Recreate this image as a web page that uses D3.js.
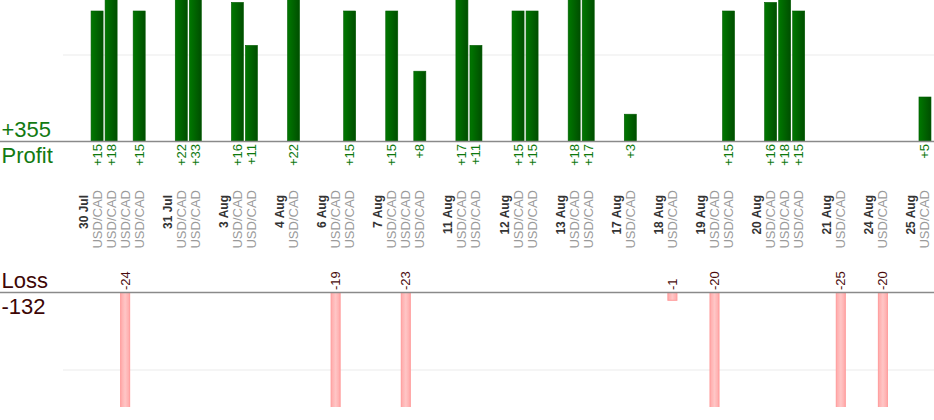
<!DOCTYPE html>
<html>
<head>
<meta charset="utf-8">
<script src="https://cdn.jsdelivr.net/npm/d3@7"></script>
<style>
  html, body { margin: 0; padding: 0; background: #fff; }
  svg { display: block; font-family: "Liberation Sans", Arial, sans-serif; }
</style>
</head>
<body>
<svg id="chart" width="934" height="420"></svg>
<script>
// ---- data ----
const dates = ["30 Jul","31 Jul","3 Aug","4 Aug","6 Aug","7 Aug","11 Aug","12 Aug","13 Aug","17 Aug","18 Aug","19 Aug","20 Aug","21 Aug","24 Aug","25 Aug"];
const tradesPerDate = [4, 2, 2, 1, 2, 3, 2, 2, 2, 1, 1, 2, 3, 1, 1, 1];
const tradeValues = [15, 18, -24, 15,  22, 33,  16, 11,  22,  -19, 15,  15, -23, 8,
                     17, 11,  15, 15,  18, 17,  3,  -1,  -20, 15,  16, 18, 15,  -25,  -20,  5];
const tradePair = "USD/CAD";
const gridValue = 10;

// ---- layout ----
const W = 934, H = 420;
const svg = d3.select("#chart");

// build slot list: gap, date, trades...
const slots = [];
let t = 0;
dates.forEach((d, i) => {
  slots.push({ key: "g" + i, type: "gap" });
  slots.push({ key: "d" + i, type: "date", label: d });
  for (let k = 0; k < tradesPerDate[i]; k++) {
    slots.push({ key: "t" + t, type: "trade", value: tradeValues[t] });
    t++;
  }
});

const x = d3.scaleBand().domain(slots.map(s => s.key)).range([62, 932]).padding(0);
const bw = x.bandwidth();
const cx = k => x(k) + bw / 2;

const profitBase = 141, lossBase = 292;
const yP = d3.scaleLinear().domain([0, gridValue]).range([profitBase, 55]);
const yL = d3.scaleLinear().domain([0, gridValue]).range([lossBase, 370]);

const defs = svg.append("defs");
const gP = defs.append("linearGradient").attr("id", "gp").attr("x1", 0).attr("x2", 1).attr("y1", 0).attr("y2", 0);
gP.append("stop").attr("offset", "0%").attr("stop-color", "#007800");
gP.append("stop").attr("offset", "100%").attr("stop-color", "#004e00");
const gL = defs.append("linearGradient").attr("id", "gl").attr("x1", 0).attr("x2", 1).attr("y1", 0).attr("y2", 0);
gL.append("stop").attr("offset", "0%").attr("stop-color", "#ffa9a9");
gL.append("stop").attr("offset", "50%").attr("stop-color", "#ffc6c6");
gL.append("stop").attr("offset", "100%").attr("stop-color", "#ffa9a9");
defs.append("clipPath").attr("id", "clipP").append("rect").attr("x", 0).attr("y", 0).attr("width", W).attr("height", profitBase);
defs.append("clipPath").attr("id", "clipL").append("rect").attr("x", 0).attr("y", lossBase).attr("width", W).attr("height", 407 - lossBase);

// gridlines
svg.append("line").attr("x1", 63).attr("x2", W).attr("y1", yP(gridValue)).attr("y2", yP(gridValue))
  .attr("stroke", "#ebebeb").attr("stroke-width", 1);
svg.append("line").attr("x1", 63).attr("x2", W).attr("y1", yL(gridValue)).attr("y2", yL(gridValue))
  .attr("stroke", "#ebebeb").attr("stroke-width", 1);

const trades = slots.filter(s => s.type === "trade");
const wins = trades.filter(s => s.value > 0);
const losses = trades.filter(s => s.value < 0);

// profit bars
svg.append("g").attr("clip-path", "url(#clipP)").selectAll("rect").data(wins).join("rect")
  .attr("x", d => x(d.key) + 1).attr("width", bw - 2)
  .attr("y", d => yP(d.value) - 1).attr("height", d => profitBase - yP(d.value) + 1)
  .attr("fill", "url(#gp)").attr("stroke", "#005a00").attr("stroke-width", 0.6);

// loss bars
svg.append("g").attr("clip-path", "url(#clipL)").selectAll("rect").data(losses).join("rect")
  .attr("x", d => x(d.key) + 2.5).attr("width", bw - 5)
  .attr("y", lossBase + 0.5).attr("height", d => yL(-d.value) - lossBase)
  .attr("fill", "url(#gl)").attr("stroke", "#ff9b9b").attr("stroke-width", 1);

// baselines
svg.append("line").attr("x1", 0).attr("x2", W).attr("y1", profitBase + 0.5).attr("y2", profitBase + 0.5)
  .attr("stroke", "#8a8a8a").attr("stroke-width", 1.4);
svg.append("line").attr("x1", 0).attr("x2", W).attr("y1", lossBase + 0.5).attr("y2", lossBase + 0.5)
  .attr("stroke", "#8a8a8a").attr("stroke-width", 1.4);

// profit value labels
svg.append("g").selectAll("text").data(wins).join("text")
  .attr("transform", d => `translate(${cx(d.key) + 4.5},144) rotate(-90)`)
  .attr("text-anchor", "end").attr("font-size", 13).attr("fill", "#0d780d")
  .text(d => "+" + d.value);

// loss value labels
svg.append("g").selectAll("text").data(losses).join("text")
  .attr("transform", d => `translate(${cx(d.key) + 4.5},290) rotate(-90)`)
  .attr("text-anchor", "start").attr("font-size", 13).attr("fill", "#4a0c0c")
  .text(d => String(d.value));

// pair labels
svg.append("g").selectAll("text").data(trades).join("text")
  .attr("transform", d => `translate(${cx(d.key) + 4.5},190) rotate(-90)`)
  .attr("text-anchor", "end").attr("font-size", 13).attr("fill", "#9a9a9a")
  .text(tradePair);

// date labels
svg.append("g").selectAll("text").data(slots.filter(s => s.type === "date")).join("text")
  .attr("transform", d => `translate(${cx(d.key) + 4.5},195) rotate(-90)`)
  .attr("text-anchor", "end").attr("font-size", 12).attr("font-weight", "bold").attr("fill", "#333")
  .text(d => d.label);

// totals
const totalProfit = d3.sum(wins, d => d.value);
const totalLoss = d3.sum(losses, d => d.value);
svg.append("text").attr("x", 1.5).attr("y", 137).attr("font-size", 22).attr("fill", "#127a12").text("+" + totalProfit);
svg.append("text").attr("x", 1.5).attr("y", 163).attr("font-size", 22).attr("fill", "#127a12").text("Profit");
svg.append("text").attr("x", 1.5).attr("y", 288).attr("font-size", 22).attr("fill", "#3d0606").text("Loss");
svg.append("text").attr("x", 1.5).attr("y", 314).attr("font-size", 22).attr("fill", "#3d0606").text(String(totalLoss));
</script>
</body>
</html>
